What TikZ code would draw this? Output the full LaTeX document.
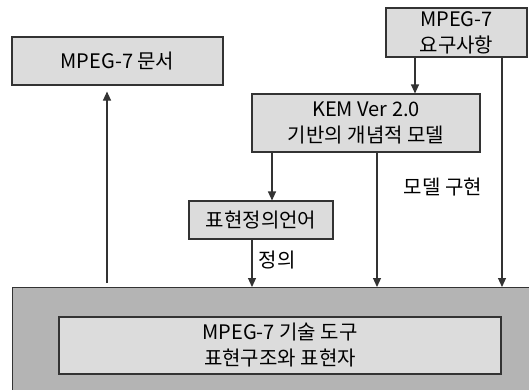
\documentclass[tikz,border=0pt]{standalone}
\usepackage{fontspec}
\newfontfamily\kr{Noto Sans CJK KR}
\usetikzlibrary{arrows.meta}
\definecolor{boxgray}{HTML}{DCDCDC}
\definecolor{toolgray}{HTML}{B4B4B4}
\definecolor{linegray}{HTML}{333333}
\tikzset{
  box/.style={draw=linegray, fill=boxgray, line width=1.1pt, inner sep=0pt, align=center,
    font=\kr\fontsize{20}{26}\selectfont},
  arr/.style={draw=linegray, line width=1.1pt, -{Triangle[width=8pt,length=9pt]}},
  lbl/.style={font=\kr\fontsize{20}{26}\selectfont}
}
\begin{document}
\begin{tikzpicture}[x=1pt,y=-1pt]
    % fix the page size
    \clip (0,0) rectangle (529,389);
    \fill[white] (0,0) rectangle (529,389);

    % draw the boxes
    \node[box, minimum width=211pt, minimum height=48pt] (doc) at (117.5,61) {MPEG-7 문서};
    \node[box, minimum width=141pt, minimum height=49pt] (req) at (456.5,32.5) {MPEG-7\\요구사항};
    \node[box, minimum width=228pt, minimum height=58pt] (kem) at (366,123) {KEM Ver 2.0\\기반의 개념적 모델};
    \node[box, minimum width=144pt, minimum height=38pt] (lang) at (261,220) {표현정의언어};
    \node[box, fill=toolgray, minimum width=540pt, minimum height=120pt, anchor=north west] (tool) at (12,287) {};
    \node[box, minimum width=442pt, minimum height=57pt] (desc) at (280,345.5) {MPEG-7 기술 도구\\표현구조와 표현자};

    % x positions of the connectors
    \coordinate (xdoc) at (107,0);
    \coordinate (xreq) at (415,0);
    \coordinate (xkem) at (272,0);
    \coordinate (xlang) at (252,0);
    \coordinate (ximpl) at (377,0);
    \coordinate (xright) at (502,0);

    % draw the connectors
    \draw[arr, shorten <=4pt, shorten >=6pt] (tool.north -| xdoc) -- (doc.south -| xdoc);
    \draw[arr] (req.south -| xreq) -- (kem.north -| xreq);
    \draw[arr] (kem.south -| xkem) -- (lang.north -| xkem);
    \draw[arr] (lang.south -| xlang) -- (tool.north -| xlang);
    \draw[arr] (kem.south -| ximpl) -- (tool.north -| ximpl);
    \draw[arr] (req.south -| xright) -- (tool.north -| xright);

    % labels on the connectors
    \node[lbl] (def) at (277,260) {정의};
    \node[lbl] (impl) at (443,187) {모델 구현};
\end{tikzpicture}
\end{document}
